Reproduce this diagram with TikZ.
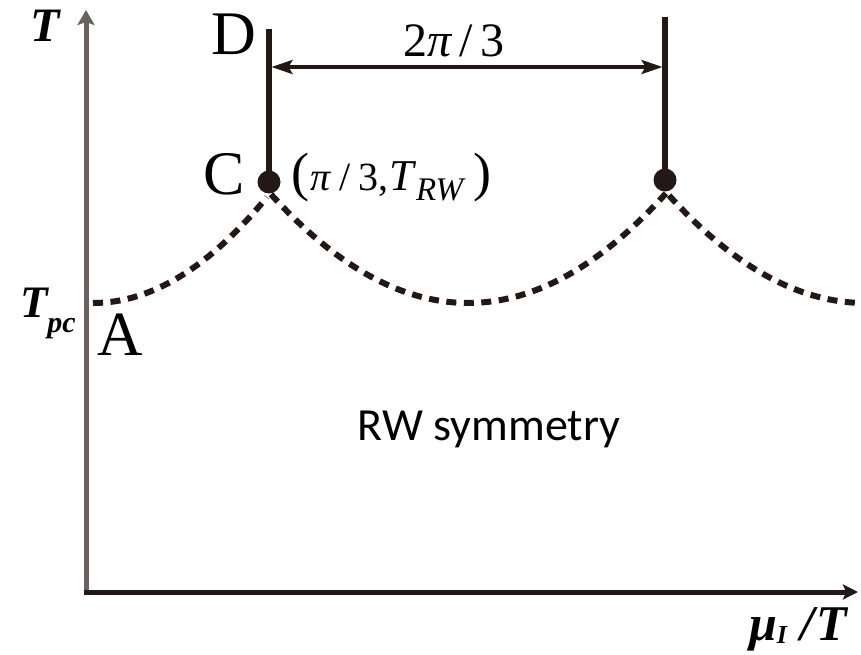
\documentclass[tikz,border=0pt]{standalone}
\usepackage{fontspec}
\setmainfont{Liberation Serif}
\newfontfamily\calib{Carlito}
\usetikzlibrary{arrows.meta}
\definecolor{ink}{RGB}{35,24,21}
\definecolor{axisgray}{RGB}{105,96,96}
\begin{document}
\begin{tikzpicture}[x=1pt,y=-1pt,
  lbl/.style={inner sep=0pt, outer sep=0pt, text=black, anchor=base west},
  dotnode/.style={circle, fill=ink, inner sep=0pt, minimum size=23pt},
  dashcurve/.style={ink, line width=6pt, dash pattern=on 10pt off 7.5pt},
  stem/.style={ink, line width=5.5pt},
  yaxis/.style={axisgray, line width=5pt, -{Stealth[length=15pt,width=17pt,inset=3pt]}},
  xaxis/.style={ink, line width=5pt, -{Stealth[length=15pt,width=15pt,inset=3pt]}},
  dimarrow/.style={ink, line width=3.5pt, {Stealth[length=21pt,width=14pt,inset=4pt]}-{Stealth[length=21pt,width=14pt,inset=4pt]}},
]
\useasboundingbox (0,0) rectangle (861,655);
% axes
\coordinate (O) at (86,592);
\coordinate (Ytop) at (86,10);
\coordinate (Xend) at (858,592);
\draw[yaxis] (O) -- (Ytop);
\draw[xaxis] ([xshift=-2.5pt]O) -- (Xend);
% critical points
\node[dotnode] (C) at (269,182) {};
\node[dotnode] (C2) at (665,180) {};
\coordinate (Dtop) at (269,29);
\coordinate (D2top) at (665,17);
\draw[stem] (Dtop) -- (C.center);
\draw[stem] (D2top) -- (C2.center);
% dimension arrow
\coordinate (L) at (271.5,67);
\coordinate (R) at (662.5,67);
\draw[dimarrow] (L) -- (R);
% dashed RW lines (parabolic arcs), parameter in units of 100
\draw[dashcurve] plot[domain=0:1.74, samples=60] ({93+100*(\x)},{303-35*(\x)*(\x)});
\draw[dashcurve] plot[domain=-1.97:1.98, samples=80] ({468+100*(\x)},{303-28*(\x)*(\x)});
\draw[dashcurve] plot[domain=-1.96:-0.04, samples=60] ({865+100*(\x)},{303-28*(\x)*(\x)});
% labels
\node[lbl] (Tlab) at (30,42) {\fontsize{48}{50}\selectfont\bfseries\itshape T};
\node[lbl] (Dlab) at (211,55) {\fontsize{62}{62}\selectfont D};
\node[lbl] (Clab) at (203,194) {\fontsize{62}{62}\selectfont C};
\node[lbl] (Alab) at (97,355) {\fontsize{63}{63}\selectfont A};
\node[lbl] (Tpc) at (20,317) {\fontsize{45}{45}\selectfont\bfseries\itshape T\raisebox{-15pt}{\fontsize{30}{30}\selectfont pc}};
\node[lbl] (dist) at (403,57) {\fontsize{48}{48}\selectfont 2\textit{π}\hspace{7pt}/\hspace{8pt}3};
\node[lbl] (Cco) at (291,190) {\fontsize{40}{40}\selectfont{\fontsize{54}{54}\selectfont(}\hspace{2pt}\textit{π}\hspace{8pt}/\hspace{7pt}3,\hspace{1pt}{\fontsize{44}{44}\selectfont\textit{T}}\raisebox{-10pt}{\fontsize{33}{33}\selectfont\textit{RW}}\hspace{8pt}{\fontsize{54}{54}\selectfont)}};
\node[inner sep=0pt, anchor=base] (RW) at (489,440) {\fontsize{46}{46}\selectfont\calib RW symmetry};
\node[lbl] (mu) at (749,640) {\fontsize{50}{50}\selectfont\bfseries\itshape μ\raisebox{-3pt}{\fontsize{26}{26}\selectfont I}\hspace{14pt}/\hspace{2pt}T};
\end{tikzpicture}
\end{document}
